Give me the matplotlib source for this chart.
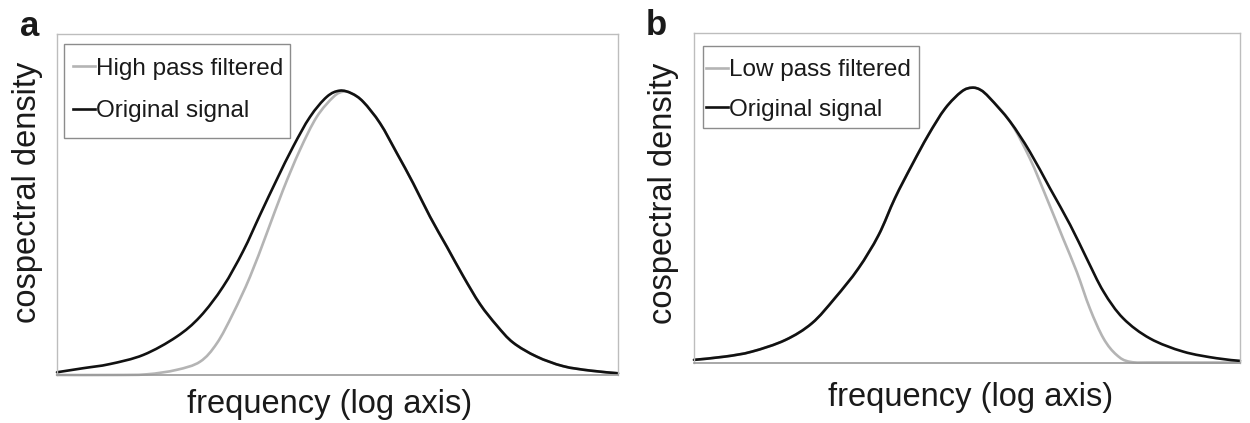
"""Cospectra of the original signal against high- and low-pass filtered versions."""

import matplotlib
matplotlib.use("Agg")
import matplotlib.pyplot as plt
from matplotlib.lines import Line2D
from matplotlib.patches import PathPatch, Rectangle
from matplotlib.path import Path

plt.rcParams["font.family"] = ["Liberation Sans", "DejaVu Sans"]
plt.rcParams["text.color"] = "#1a1a1a"

# frequency position (fraction of the log axis) and cospectral density (arbitrary units)
HP_FREQ = [0.0, 0.10, 0.16, 0.213, 0.255, 0.285, 0.314, 0.344, 0.374, 0.403, 0.433,
           0.463, 0.493, 0.510, 0.525, 0.546, 0.576, 0.606, 0.635, 0.665, 0.695, 0.724,
           0.754, 0.784, 0.813, 0.855, 0.902, 0.950, 1.0]
HP_FILTERED = [0.0, 0.0, 0.002, 0.015, 0.039, 0.093, 0.181, 0.288, 0.416, 0.543, 0.660,
               0.757, 0.816, 0.831, 0.826, 0.801, 0.738, 0.650, 0.562, 0.464, 0.376, 0.290,
               0.208, 0.145, 0.095, 0.054, 0.026, 0.013, 0.005]
A_FREQ = [0.0, 0.047, 0.094, 0.154, 0.213, 0.255, 0.296, 0.332, 0.362, 0.392, 0.421,
          0.451, 0.481, 0.504, 0.525, 0.546, 0.576, 0.606, 0.635, 0.665, 0.695, 0.724,
          0.754, 0.784, 0.813, 0.855, 0.902, 0.950, 1.0]
A_ORIGINAL = [0.008, 0.020, 0.032, 0.059, 0.112, 0.171, 0.259, 0.364, 0.470, 0.574, 0.670,
              0.757, 0.816, 0.834, 0.826, 0.801, 0.738, 0.650, 0.562, 0.464, 0.376, 0.290,
              0.208, 0.145, 0.095, 0.054, 0.026, 0.013, 0.005]

B_FREQ = [0.0, 0.057, 0.106, 0.167, 0.216, 0.258, 0.301, 0.338, 0.368, 0.399, 0.429,
          0.460, 0.490, 0.509, 0.525, 0.542, 0.579, 0.615, 0.652, 0.689, 0.719, 0.750,
          0.786, 0.835, 0.896, 0.957, 1.0]
B_ORIGINAL = [0.008, 0.018, 0.033, 0.068, 0.119, 0.195, 0.285, 0.386, 0.498, 0.598, 0.689,
              0.770, 0.821, 0.833, 0.826, 0.801, 0.730, 0.639, 0.528, 0.417, 0.316, 0.215,
              0.134, 0.073, 0.033, 0.013, 0.005]
LP_FREQ = [0.0, 0.057, 0.106, 0.167, 0.216, 0.258, 0.301, 0.338, 0.368, 0.399, 0.429,
           0.460, 0.490, 0.509, 0.525, 0.542, 0.579, 0.615, 0.646, 0.676, 0.701, 0.725,
           0.750, 0.774, 0.799, 0.850, 1.0]
LP_FILTERED = [0.008, 0.018, 0.033, 0.068, 0.119, 0.195, 0.285, 0.386, 0.498, 0.598, 0.689,
               0.770, 0.821, 0.833, 0.826, 0.801, 0.730, 0.619, 0.498, 0.376, 0.275, 0.164,
               0.073, 0.023, 0.002, 0.0, 0.0]

GREY = "#b4b4b4"
BLACK = "#111111"
LW = 1.9


def smooth_path(xs, ys):
    """Catmull-Rom curve through the points, as cubic Bezier segments."""
    pts = list(zip(xs, ys))
    verts, codes = [pts[0]], [Path.MOVETO]
    n = len(pts)
    for i in range(n - 1):
        p0 = pts[max(i - 1, 0)]
        p1, p2 = pts[i], pts[i + 1]
        p3 = pts[min(i + 2, n - 1)]
        c1 = (p1[0] + (p2[0] - p0[0]) / 6, p1[1] + (p2[1] - p0[1]) / 6)
        c2 = (p2[0] - (p3[0] - p1[0]) / 6, p2[1] - (p3[1] - p1[1]) / 6)
        verts += [c1, c2, p2]
        codes += [Path.CURVE4] * 3
    return Path(verts, codes)


def curve(ax, xs, ys, color):
    ax.add_patch(PathPatch(smooth_path(xs, ys), fill=False, edgecolor=color, lw=LW,
                           capstyle="round", joinstyle="round", clip_on=False))


def panel(ax, freq_f, filt, freq_o, orig, filt_label, legend_xy, frame, labelspacing,
          ylab_xy, xlab_xy):
    curve(ax, freq_f, filt, GREY)
    curve(ax, freq_o, orig, BLACK)
    ax.set_xlim(0, 1)
    ax.set_ylim(0, 1)
    ax.set_xticks([])
    ax.set_yticks([])
    for side in ("left", "top", "right"):
        ax.spines[side].set_color("#bdbdbd")
        ax.spines[side].set_linewidth(1.0)
    ax.spines["bottom"].set_color("#999999")
    ax.spines["bottom"].set_linewidth(1.2)

    # legend box drawn separately so its padding can follow the entries
    ax.add_patch(Rectangle(frame[:2], frame[2], frame[3], transform=ax.transAxes,
                           facecolor="white", edgecolor="#8c8c8c", lw=1.0, zorder=4))
    handles = [Line2D([], [], color=GREY, lw=LW), Line2D([], [], color=BLACK, lw=LW)]
    leg = ax.legend(handles, [filt_label, "Original signal"], loc="upper left",
                    bbox_to_anchor=legend_xy, borderaxespad=0, fontsize=17.5,
                    handlelength=0.9, handletextpad=0.05, borderpad=0.45,
                    labelspacing=labelspacing, frameon=False)
    leg.set_zorder(5)

    ax.text(*ylab_xy, "cospectral density", transform=ax.transAxes, rotation=90,
            ha="center", va="center", fontsize=23.5)
    ax.text(*xlab_xy, "frequency (log axis)", transform=ax.transAxes,
            ha="center", va="center", fontsize=23.5)


fig = plt.figure(figsize=(12.5, 4.23), dpi=100)
ax_a = fig.add_axes([0.0456, 0.1135, 0.4488, 0.806])
ax_b = fig.add_axes([0.5552, 0.143, 0.4368, 0.780])

# axes-fraction geometry: panel a spans 561 x 341 px, panel b 546 x 330 px
panel(ax_a, HP_FREQ, HP_FILTERED, A_FREQ, A_ORIGINAL, "High pass filtered",
      legend_xy=(5 / 561, (375 - 47) / 341),
      frame=(7 / 561, (375 - 138) / 341, 226 / 561, 94 / 341),
      labelspacing=0.84, ylab_xy=(-0.052, 0.535), xlab_xy=(0.485, -0.086))
panel(ax_b, LP_FREQ, LP_FILTERED, B_FREQ, B_ORIGINAL, "Low pass filtered",
      legend_xy=(1 / 546, (362.5 - 48) / 330),
      frame=(9 / 546, (362.5 - 128) / 330, 216 / 546, 82 / 330),
      labelspacing=0.72, ylab_xy=(-0.055, 0.514), xlab_xy=(0.507, -0.105))

fig.text(20 / 1250, 1 - 36 / 423, "a", fontsize=25, fontweight="bold",
         ha="left", va="baseline")
fig.text(646 / 1250, 1 - 35 / 423, "b", fontsize=25, fontweight="bold",
         ha="left", va="baseline")

fig.savefig("out.png", dpi=100)
